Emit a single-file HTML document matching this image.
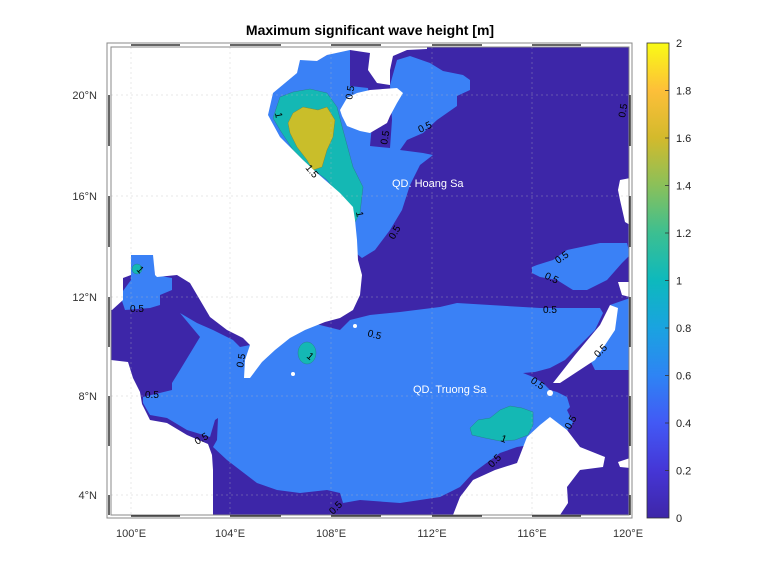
<!DOCTYPE html>
<html><head><meta charset="utf-8"><style>
body{margin:0;background:#fff;}
svg{display:block;font-family:"Liberation Sans",sans-serif;}
</style></head><body>
<svg width="778" height="583" viewBox="0 0 778 583" xmlns="http://www.w3.org/2000/svg">
<defs>
<linearGradient id="par" x1="0" y1="1" x2="0" y2="0">
<stop offset="0" stop-color="#3e26a8"/>
<stop offset="0.1" stop-color="#4536d6"/>
<stop offset="0.2" stop-color="#4259f5"/>
<stop offset="0.3" stop-color="#2e84f4"/>
<stop offset="0.4" stop-color="#1aa3e0"/>
<stop offset="0.5" stop-color="#0db9bd"/>
<stop offset="0.6" stop-color="#3cbf91"/>
<stop offset="0.7" stop-color="#8ac05a"/>
<stop offset="0.8" stop-color="#d3ba2c"/>
<stop offset="0.9" stop-color="#fdbf39"/>
<stop offset="1" stop-color="#f9fb15"/>
</linearGradient>
<clipPath id="cp"><rect x="111" y="47" width="518" height="468"/></clipPath>
</defs>
<text x="370" y="35" font-size="14" font-weight="bold" text-anchor="middle">Maximum significant wave height [m]</text>
<g clip-path="url(#cp)">
<rect x="111" y="47" width="518" height="468" fill="#3d26a8"/>
<g fill="#3a81f6">
<polygon points="260,70 300,58 317,61 327,55 350,48 350,58 350,86 368,88 372,125 370,146 390,148 392,120 390,85 397,60 410,56 430,63 443,71 463,75 470,80 470,90 457,96 457,106 437,120 423,133 407,140 400,150 423,153 433,155 420,165 410,185 402,210 390,230 375,250 362,258 340,240 250,160"/>
<polygon points="340,330 350,320 370,315 400,312 440,307 457,303 490,305 540,308 600,308 603,313 595,330 580,345 565,360 550,368 535,372 523,373 533,377 543,383 550,390 557,392 567,397 570,407 567,410 573,423 560,440 517,447 500,453 473,473 460,487 440,497 400,503 360,500 343,503 340,493 327,490 300,493 277,490 257,483 240,470 227,460 213,447 217,440 218,418 215,420 210,437 187,430 167,418 150,415 143,403 143,397 172,390 172,383 180,370 200,337 180,313 197,323 213,330 233,340 240,347 250,345 300,320"/>
<polygon points="131,250 153,250 155,275 172,278 172,290 160,295 160,305 150,308 125,310 120,295 131,280"/>
<polygon points="532,267 537,265 553,260 567,250 600,243 627,243 630,255 622,263 607,280 587,290 573,290 557,280 540,277 532,273"/>
<polygon points="610,305 630,298 630,370 595,370 590,360 605,340 612,320"/>
</g>
<g fill="#14b8b4" stroke="#2a7f8f" stroke-width="0.5">
<polygon points="273,118 280,97 293,92 310,89 327,93 337,107 343,130 353,167 363,187 360,213 355,222 352,207 337,193 327,180 310,167 293,150 280,130"/>
<ellipse cx="137" cy="269" rx="5" ry="5"/>
<ellipse cx="307" cy="353" rx="9" ry="11"/>
<polygon points="470,428 478,420 490,418 500,410 510,406 522,408 533,412 533,425 528,435 515,440 500,441 485,438 472,435"/>
</g>
<polygon fill="#c9be2a" stroke="#7a8a40" stroke-width="0.5" points="288,123 293,113 303,107 318,110 327,107 335,120 333,137 327,150 322,167 313,170 307,160 297,147 290,133"/>
<g fill="#fff">
<polygon points="111,47 427,47 427,49 407,50 393,56 390,70 390,85 377,83 368,70 370,53 350,50 327,55 317,61 300,60 297,73 273,93 268,115 280,137 303,160 317,173 340,193 353,207 355,220 357,240 358,260 362,275 360,295 353,310 340,318 325,322 305,330 290,338 275,350 262,362 250,378 244,378 245,360 250,345 243,338 227,330 210,317 200,300 190,283 177,275 157,277 155,275 153,255 131,255 131,275 123,278 123,300 112,310 111,310"/>
<polygon points="340,110 347,98 357,93 370,90 397,88 403,93 397,103 390,116 387,123 370,133 360,131 347,126 342,116"/>
<polygon points="111,360 128,362 133,378 140,392 142,404 150,420 167,423 187,435 208,444 212,455 213,470 213,515 111,515"/>
<polygon points="453,515 460,497 473,480 495,470 517,463 527,437 540,425 550,417 567,430 580,447 605,457 603,467 580,470 567,487 568,503 560,515"/>
<polygon points="610,305 618,308 615,330 595,360 560,383 553,383 575,355 600,325"/>
<polygon points="620,180 630,178 630,225 625,222 620,200 618,190"/>
<polygon points="618,282 630,282 630,297 622,295"/>
<polygon points="618,462 630,458 630,468 620,467"/>
<circle cx="355" cy="326" r="2"/><circle cx="293" cy="374" r="2"/><circle cx="550" cy="393" r="3"/>
</g>
<g stroke="#bbb" stroke-width="0.7" stroke-dasharray="2,3" opacity="0.45">
<line x1="131" y1="47" x2="131" y2="515"/><line x1="230" y1="47" x2="230" y2="515"/><line x1="331" y1="47" x2="331" y2="515"/><line x1="432" y1="47" x2="432" y2="515"/><line x1="532" y1="47" x2="532" y2="515"/>
<line x1="111" y1="95" x2="629" y2="95"/><line x1="111" y1="196" x2="629" y2="196"/><line x1="111" y1="297" x2="629" y2="297"/><line x1="111" y1="396" x2="629" y2="396"/><line x1="111" y1="495" x2="629" y2="495"/>
</g>
<g font-size="10" fill="#000">
<text transform="translate(352,100) rotate(-80)">0.5</text>
<text transform="translate(420,133) rotate(-25)">0.5</text>
<text transform="translate(387,145) rotate(-80)">0.5</text>
<text transform="translate(275,113) rotate(80)">1</text>
<text transform="translate(305,168) rotate(50)">1.5</text>
<text transform="translate(356,212) rotate(80)">1</text>
<text transform="translate(394,240) rotate(-60)">0.5</text>
<text x="130" y="312">0.5</text>
<text transform="translate(136,270) rotate(45)">1</text>
<text transform="translate(243,368) rotate(-80)">0.5</text>
<text transform="translate(306,357) rotate(40)">1</text>
<text x="367" y="336" transform="rotate(15 367 336)">0.5</text>
<text x="145" y="398">0.5</text>
<text transform="translate(197,445) rotate(-30)">0.5</text>
<text transform="translate(558,264) rotate(-35)">0.5</text>
<text transform="translate(544,278) rotate(25)">0.5</text>
<text x="543" y="313">0.5</text>
<text transform="translate(598,358) rotate(-45)">0.5</text>
<text transform="translate(530,382) rotate(35)">0.5</text>
<text transform="translate(570,430) rotate(-60)">0.5</text>
<text transform="translate(500,441) rotate(20)">1</text>
<text transform="translate(492,468) rotate(-45)">0.5</text>
<text transform="translate(333,515) rotate(-45)">0.5</text>
<text transform="translate(625,118) rotate(-80)">0.5</text>
</g>
<g font-size="11" fill="#fff">
<text x="392" y="187">QD. Hoang Sa</text>
<text x="413" y="393">QD. Truong Sa</text>
</g>
</g>
<rect x="107" y="43" width="525" height="475" fill="none" stroke="#888" stroke-width="1"/>
<rect x="111" y="47" width="518" height="468" fill="none" stroke="#888" stroke-width="1"/>
<g stroke="#333" stroke-width="1.5">
<line x1="131" y1="45" x2="180" y2="45"/><line x1="230" y1="45" x2="281" y2="45"/><line x1="331" y1="45" x2="381" y2="45"/><line x1="432" y1="45" x2="482" y2="45"/><line x1="532" y1="45" x2="581" y2="45"/>
<line x1="131" y1="516" x2="180" y2="516"/><line x1="230" y1="516" x2="281" y2="516"/><line x1="331" y1="516" x2="381" y2="516"/><line x1="432" y1="516" x2="482" y2="516"/><line x1="532" y1="516" x2="581" y2="516"/>
<line x1="109" y1="95" x2="109" y2="146"/><line x1="109" y1="196" x2="109" y2="247"/><line x1="109" y1="297" x2="109" y2="347"/><line x1="109" y1="396" x2="109" y2="446"/><line x1="109" y1="495" x2="109" y2="515"/>
<line x1="630" y1="95" x2="630" y2="146"/><line x1="630" y1="196" x2="630" y2="247"/><line x1="630" y1="297" x2="630" y2="347"/><line x1="630" y1="396" x2="630" y2="446"/><line x1="630" y1="495" x2="630" y2="515"/>
</g>
<g font-size="11" fill="#333">
<text x="97" y="99" text-anchor="end">20°N</text>
<text x="97" y="200" text-anchor="end">16°N</text>
<text x="97" y="301" text-anchor="end">12°N</text>
<text x="97" y="400" text-anchor="end">8°N</text>
<text x="97" y="499" text-anchor="end">4°N</text>
<g text-anchor="middle">
<text x="131" y="537">100°E</text><text x="230" y="537">104°E</text><text x="331" y="537">108°E</text><text x="432" y="537">112°E</text><text x="532" y="537">116°E</text><text x="628" y="537">120°E</text>
</g>
</g>
<rect x="647" y="43" width="22" height="475" fill="url(#par)" stroke="#333" stroke-width="0.8"/>
<g stroke="#333" stroke-width="0.8">
<line x1="665" y1="90.5" x2="669" y2="90.5"/><line x1="665" y1="138" x2="669" y2="138"/><line x1="665" y1="185.5" x2="669" y2="185.5"/><line x1="665" y1="233" x2="669" y2="233"/><line x1="665" y1="280.5" x2="669" y2="280.5"/><line x1="665" y1="328" x2="669" y2="328"/><line x1="665" y1="375.5" x2="669" y2="375.5"/><line x1="665" y1="423" x2="669" y2="423"/><line x1="665" y1="470.5" x2="669" y2="470.5"/>
</g>
<g font-size="11" fill="#222">
<text x="676" y="47">2</text><text x="676" y="94.5">1.8</text><text x="676" y="142">1.6</text><text x="676" y="189.5">1.4</text><text x="676" y="237">1.2</text><text x="676" y="284.5">1</text><text x="676" y="332">0.8</text><text x="676" y="379.5">0.6</text><text x="676" y="427">0.4</text><text x="676" y="474.5">0.2</text><text x="676" y="522">0</text>
</g>
</svg>
</body></html>
